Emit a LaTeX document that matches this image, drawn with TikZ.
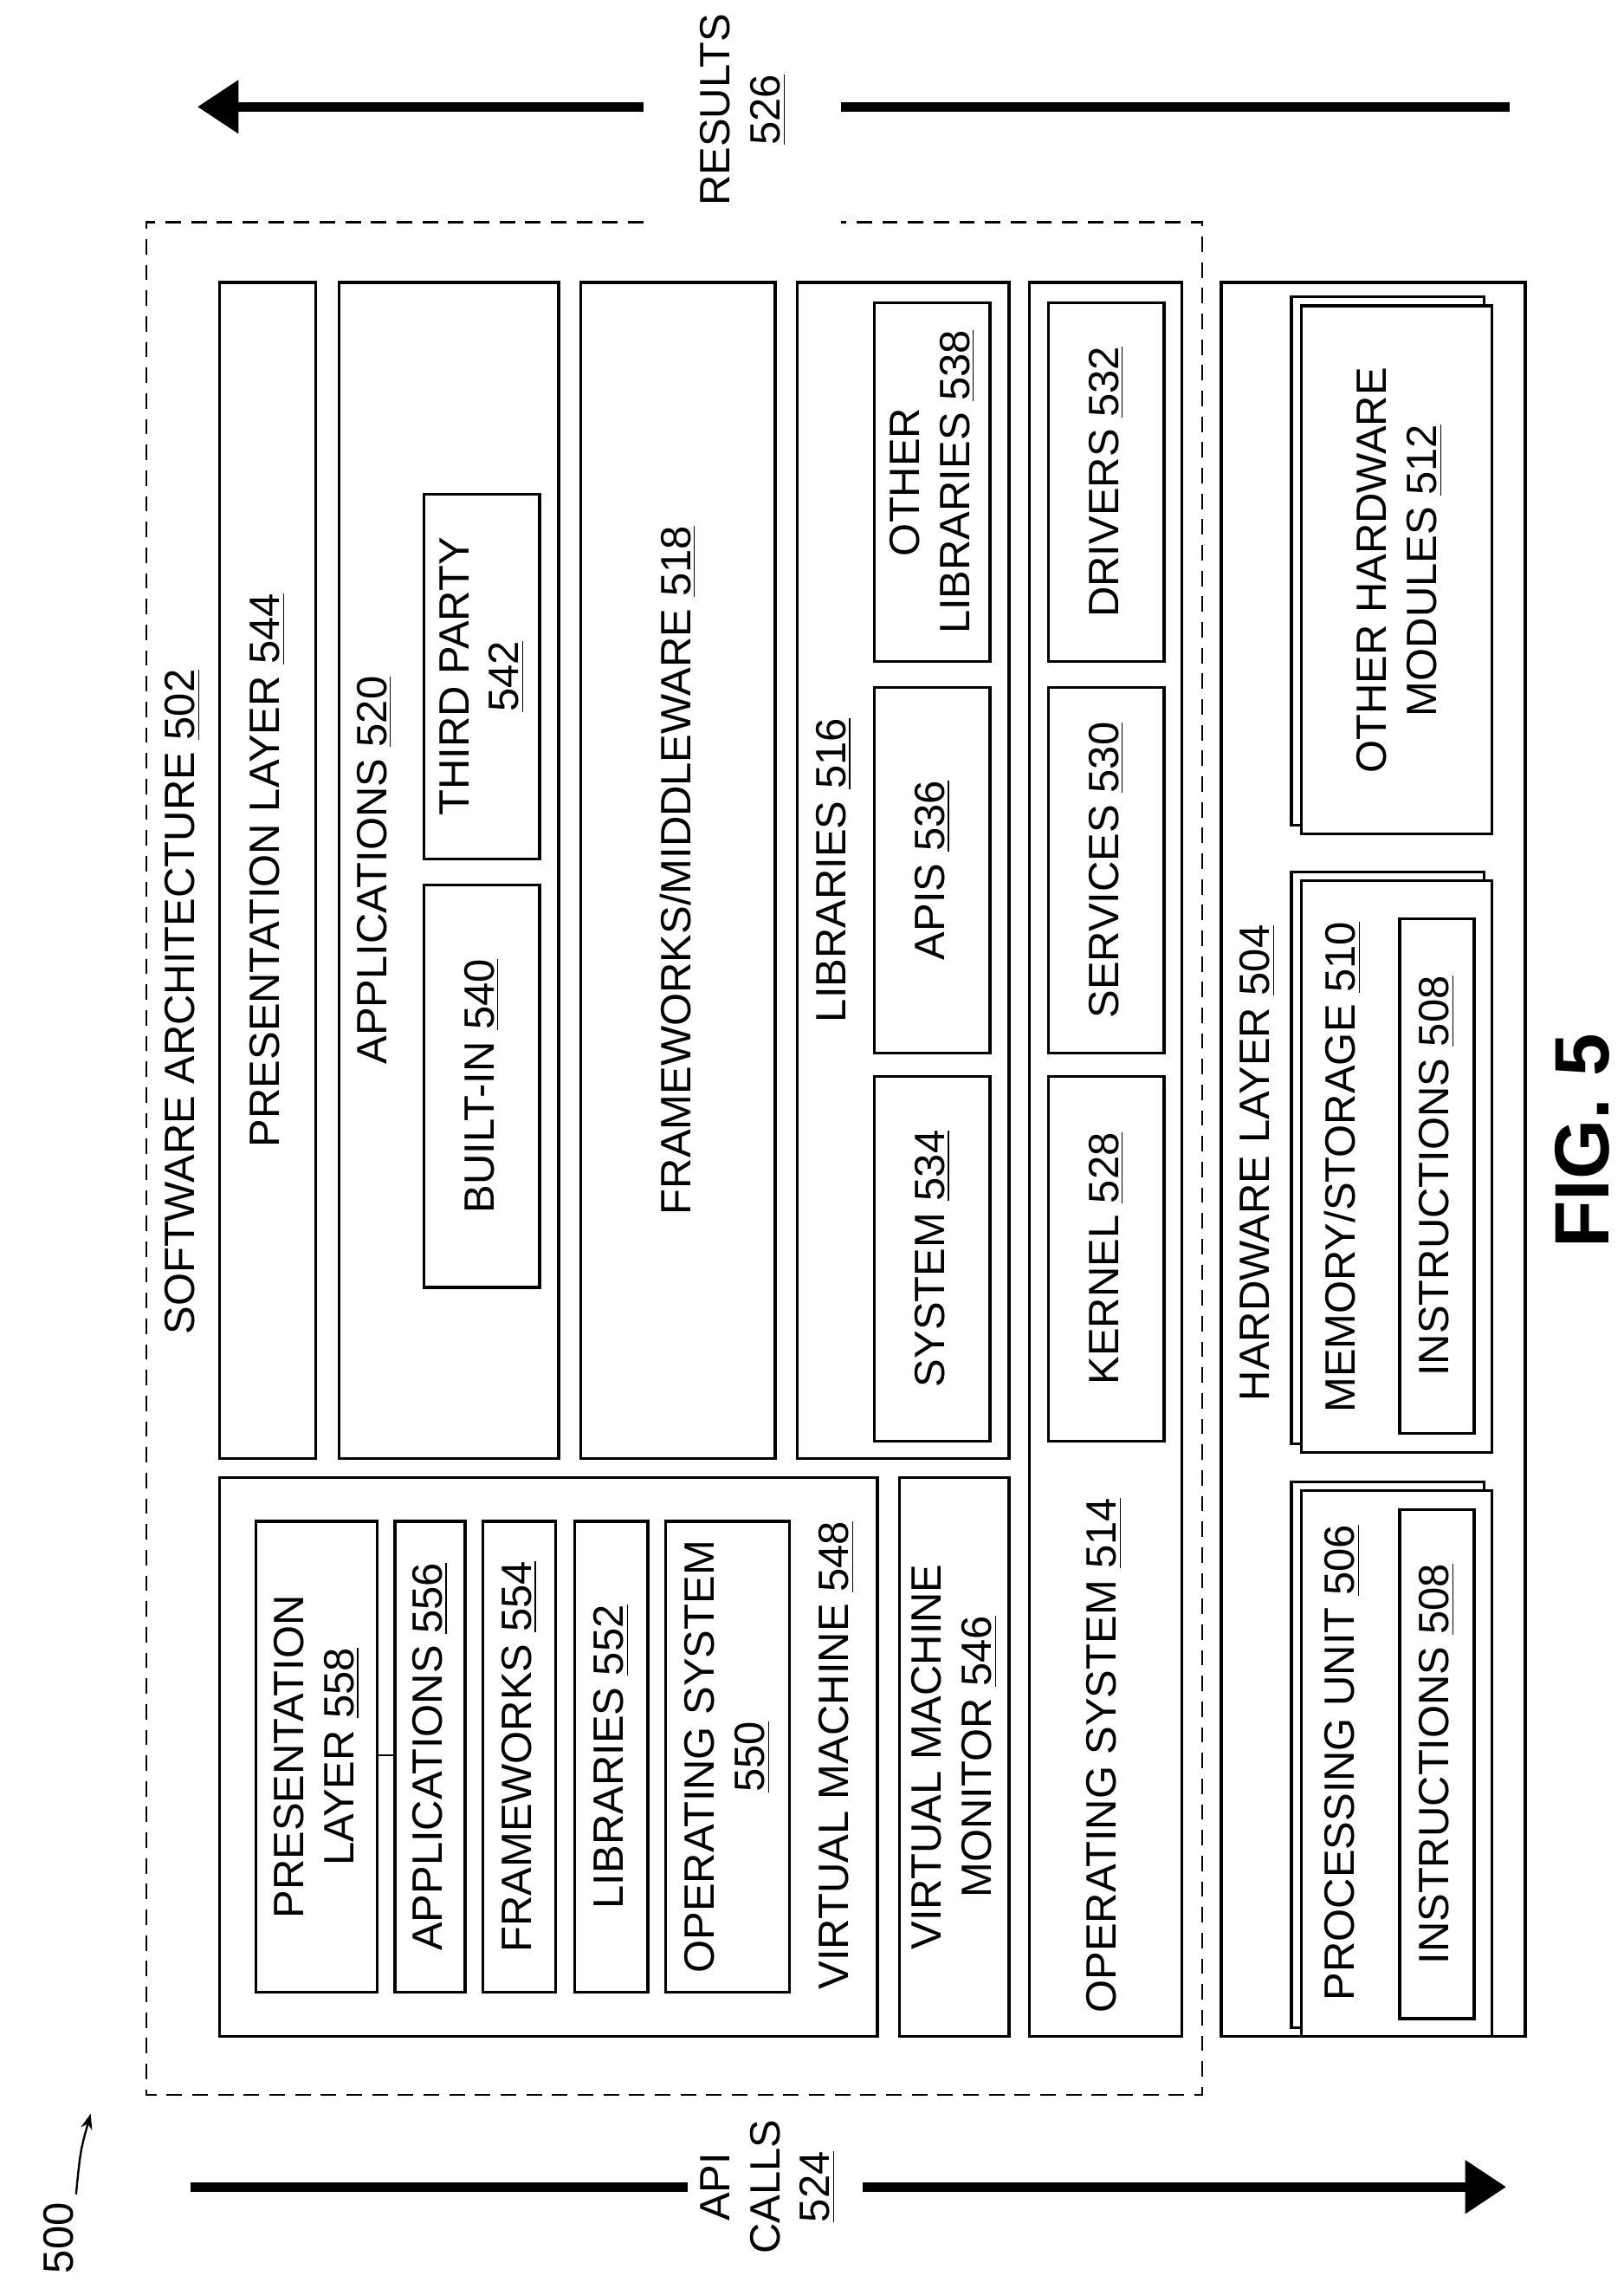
\documentclass[tikz,border=0pt]{standalone}
\usepackage{fontspec}
\setmainfont{Liberation Sans}
\usetikzlibrary{arrows.meta}
\newcommand{\rn}[1]{\underline{#1}}
\tikzset{
  lbl/.style={rotate=90,font=\fontsize{16.5}{19.5}\selectfont,align=center,inner sep=1pt},
  box/.style={line width=1.1pt},
  bigarrow/.style={line width=3.6pt,-{Triangle[length=16pt,width=20pt]}}
}
% rectangle with centred rotated label
\newcommand{\blk}[6]{\draw[box] (#1,#2) rectangle (#3,#4);
  \node[lbl] (#5) at ({(#1+#3)/2},{(#2+#4)/2}) {#6};}
\begin{document}
\begin{tikzpicture}[x=0.02cm,y=-0.02cm]
\useasboundingbox (0,0) rectangle (1110,1560);

% results / api calls arrows
\coordinate (r1) at (440,73);
\coordinate (r0) at (135,73);
\coordinate (r2) at (1032,73);
\coordinate (r3) at (575,73);
\draw[bigarrow] (r1) -- (r0);
\draw[line width=3.6pt] (r2) -- (r3);
\node[lbl] (results) at (508,75) {RESULTS\\\rn{526}};
\coordinate (a0) at (130,1495);
\coordinate (a1) at (470,1495);
\coordinate (a2) at (590,1495);
\coordinate (a3) at (1030,1495);
\draw[line width=3.6pt] (a0) -- (a1);
\draw[bigarrow] (a2) -- (a3);
\node[lbl] (apicalls) at (525,1495) {API\\CALLS\\\rn{524}};
\node[lbl] (fig500) at (40,1530) {500};
\coordinate (c0) at (52,1500);
\coordinate (c1) at (62,1445);
\draw[line width=0.8pt,-{Stealth[length=6pt]}] (c0) .. controls (55,1470) .. (c1);

% software architecture
\draw[box,dashed,dash pattern=on 6pt off 4pt,line width=0.8pt]
  (440,152) -- (100,152) -- (100,1432) -- (822,1432) -- (822,152) -- (575,152);
\node[lbl] (sw) at (125,685) {SOFTWARE ARCHITECTURE \rn{502}};

\blk{150}{193}{216}{997}{pres}{PRESENTATION LAYER \rn{544}}
\draw[box] (232,193) rectangle (382,997);
\node[lbl] (apps) at (256,595) {APPLICATIONS \rn{520}};
\blk{290}{605}{369}{880}{builtin}{BUILT-IN \rn{540}}
\blk{290}{338}{369}{587}{third}{THIRD PARTY\\\rn{542}}
\blk{397}{193}{530}{997}{fw}{FRAMEWORKS/MIDDLEWARE \rn{518}}
\draw[box] (545,193) rectangle (690,997);
\node[lbl] (libs) at (570,595) {LIBRARIES \rn{516}};
\blk{598}{207}{677}{452}{other}{OTHER\\LIBRARIES \rn{538}}
\blk{598}{470}{677}{720}{apis}{APIS \rn{536}}
\blk{598}{736}{677}{985}{system}{SYSTEM \rn{534}}

\draw[box] (704,193) rectangle (808,1392);
\node[lbl] (os) at (755,1200) {OPERATING SYSTEM \rn{514}};
\blk{717}{207}{796}{452}{drivers}{DRIVERS \rn{532}}
\blk{717}{470}{796}{720}{services}{SERVICES \rn{530}}
\blk{717}{736}{796}{985}{kernel}{KERNEL \rn{528}}

\blk{615}{1010}{690}{1392}{vmm}{VIRTUAL MACHINE\\MONITOR \rn{546}}
\draw[box] (150,1010) rectangle (600,1392);
\node[lbl] (vm) at (572,1200) {VIRTUAL MACHINE \rn{548}};
\blk{175}{1040}{258}{1362}{vpres}{PRESENTATION\\LAYER \rn{558}}
\blk{270}{1040}{318}{1362}{vapps}{APPLICATIONS \rn{556}}
\blk{330}{1040}{380}{1362}{vfw}{FRAMEWORKS \rn{554}}
\blk{393}{1040}{443}{1362}{vlibs}{LIBRARIES \rn{552}}
\blk{455}{1040}{540}{1362}{vos}{OPERATING SYSTEM\\\rn{550}}
\coordinate (t0) at (258,1200);
\coordinate (t1) at (270,1200);
\draw[line width=0.6pt] (t0) -- (t1);

% hardware layer
\draw[box] (835,193) rectangle (1043,1392);
\node[lbl] (hw) at (860,795) {HARDWARE LAYER \rn{504}};
\draw[box] (883,203) rectangle (1015,564);
\draw[box,fill=white] (890,209) rectangle (1020,570);
\node[lbl] (ohw) at (957,390) {OTHER HARDWARE\\MODULES \rn{512}};
\draw[box] (883,596) rectangle (1015,987);
\draw[box,fill=white] (890,602) rectangle (1020,993);
\node[lbl] (mem) at (918,798) {MEMORY/STORAGE \rn{510}};
\blk{957}{628}{1008}{980}{ins1}{INSTRUCTIONS \rn{508}}
\draw[box] (883,1013) rectangle (1015,1386);
\draw[box,fill=white] (890,1019) rectangle (1020,1392);
\node[lbl] (cpu) at (918,1205) {PROCESSING UNIT \rn{506}};
\blk{957}{1032}{1008}{1380}{ins2}{INSTRUCTIONS \rn{508}}

\node[lbl,font=\fontsize{30}{34}\bfseries\selectfont] (fig) at (1082,780) {FIG. 5};
\end{tikzpicture}
\end{document}
